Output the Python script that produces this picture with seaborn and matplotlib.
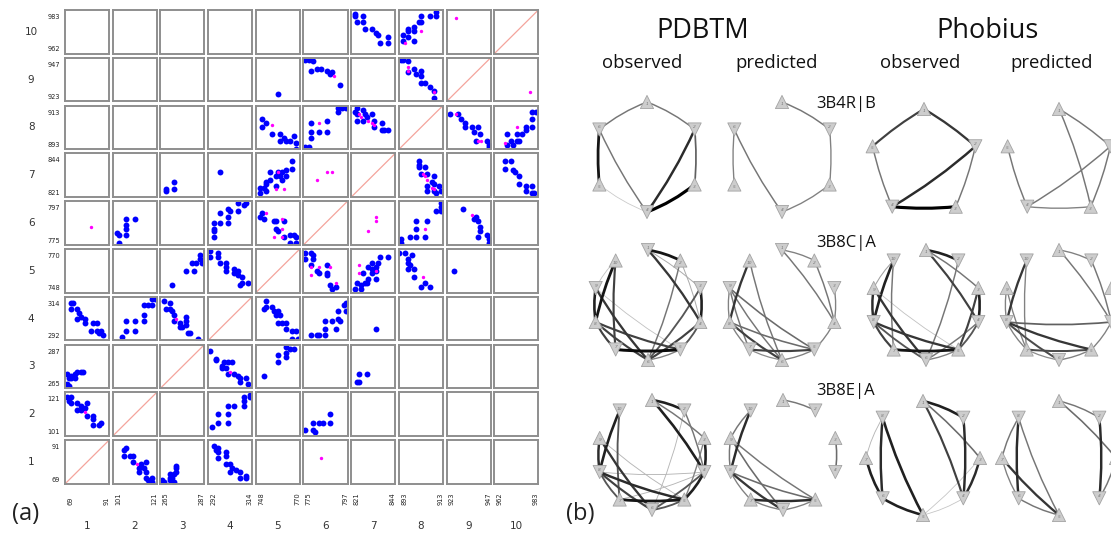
import matplotlib
matplotlib.use("Agg")
import matplotlib.pyplot as plt
from matplotlib.path import Path
from matplotlib.patches import PathPatch
import numpy as np
import pandas as pd
import seaborn as sns

sns.set_theme(style="white")
plt.rcParams["font.family"] = ["DejaVu Sans"]

# ---------------------------------------------------------------------------
# Transmembrane helix boundaries (residue numbers)
# ---------------------------------------------------------------------------
helix_names = ["1", "2", "3", "4", "5", "6", "7", "8", "9", "10"]
helix_start = [69, 101, 265, 292, 748, 775, 821, 893, 923, 962]
helix_end = [91, 121, 287, 314, 770, 797, 844, 913, 947, 983]

# Residue contacts between helix pairs: (residue on first helix, residue on second helix)
obs_1_2 = [(70, 119), (72, 119), (71, 117), (72, 116), (75, 116), (77, 115), (75, 113), (77, 113),
           (80, 116), (79, 114), (80, 110), (83, 110), (83, 109), (86, 106), (83, 106), (87, 107)]
obs_1_3 = [(70, 272), (71, 270), (70, 267), (71, 266), (72, 270), (74, 272), (74, 270), (77, 273),
           (78, 273), (69, 266), (75, 273), (72, 271)]
obs_1_4 = [(72, 311), (73, 311), (72, 308), (75, 308), (76, 306), (75, 303), (77, 304), (79, 303),
           (79, 301), (83, 301), (85, 301), (82, 297), (85, 297), (87, 297), (88, 295), (86, 296)]
obs_2_4 = [(105, 294), (107, 297), (107, 302), (111, 302), (111, 297), (115, 302), (115, 305),
           (115, 310), (117, 310), (119, 313), (120, 313), (119, 310)]
obs_2_6 = [(104, 776), (104, 780), (103, 781), (107, 780), (107, 783), (107, 785), (107, 788), (111, 788)]
obs_3_4 = [(267, 312), (270, 311), (268, 308), (270, 308), (271, 307), (272, 305), (275, 301),
           (275, 299), (276, 299), (278, 304), (278, 302), (278, 300), (279, 296), (280, 296),
           (284, 293), (272, 302)]
obs_3_5 = [(271, 752), (278, 759), (282, 759), (281, 763), (283, 763), (286, 763), (285, 765), (285, 767)]
obs_3_7 = [(268, 824), (268, 825), (272, 825), (272, 829)]
obs_4_5 = [(312, 753), (309, 753), (308, 752), (309, 756), (307, 757), (307, 759), (305, 760),
           (305, 758), (301, 761), (301, 759), (301, 763), (298, 763), (297, 766), (297, 768),
           (293, 766), (293, 769)]
obs_4_6 = [(295, 779), (295, 782), (295, 783), (295, 786), (298, 786), (302, 786), (302, 789),
           (303, 792), (302, 793), (298, 791), (307, 792), (310, 795), (311, 796), (307, 796)]
obs_4_7 = [(298, 834)]
obs_5_6 = [(751, 791), (752, 788), (757, 787), (758, 787), (758, 783), (759, 782), (762, 787),
           (762, 779), (765, 780), (767, 780), (768, 779), (768, 776), (765, 776), (750, 789)]
obs_5_7 = [(750, 823), (752, 826), (753, 828), (755, 830), (755, 834), (758, 832), (759, 834),
           (760, 832), (761, 834), (761, 830), (763, 835), (763, 832), (766, 836), (766, 840),
           (753, 824), (758, 827), (750, 826), (753, 829)]
obs_5_8 = [(751, 907), (751, 903), (756, 900), (760, 900), (760, 897), (762, 898), (763, 897),
           (767, 899), (768, 896), (768, 893), (765, 897), (753, 905)]
obs_5_9 = [(759, 927)]
obs_6_8 = [(778, 894), (779, 898), (779, 901), (779, 905), (783, 901), (787, 906), (787, 901),
           (792, 910), (792, 912), (794, 912), (796, 912), (776, 894)]
obs_6_9 = [(793, 932), (788, 938), (787, 940), (784, 941), (782, 941), (779, 940), (780, 945),
           (778, 946), (776, 946), (789, 939)]
obs_7_8 = [(824, 912), (827, 911), (823, 910), (824, 909), (824, 906), (827, 906), (828, 909),
           (829, 908), (832, 909), (833, 906), (833, 903), (837, 905), (838, 902), (840, 902), (837, 902)]
obs_7_10 = [(840, 967), (840, 970), (836, 967), (835, 971), (834, 972), (832, 974), (828, 974),
            (827, 977), (827, 980), (824, 977), (823, 980), (823, 981)]
obs_8_9 = [(894, 946), (897, 945), (897, 939), (900, 941), (903, 940), (901, 938), (903, 937),
           (903, 933), (905, 933), (907, 931), (909, 929), (909, 925), (895, 946)]
obs_8_10 = [(895, 968), (897, 970), (897, 973), (897, 974), (900, 973), (900, 968), (900, 975),
            (902, 977), (903, 977), (903, 980), (907, 980), (910, 980), (910, 982), (895, 971)]

pred_1_2 = [(79, 112)]
pred_1_6 = [(82, 784)]
pred_3_4 = [(273, 303)]
pred_5_6 = [(753, 791), (761, 788), (761, 783), (757, 779), (761, 779)]
pred_5_7 = [(758, 825), (762, 825), (759, 834)]
pred_5_8 = [(756, 904)]
pred_6_7 = [(782, 830), (787, 834), (789, 834)]
pred_6_8 = [(783, 905)]
pred_6_9 = [(790, 937)]
pred_7_8 = [(826, 908), (830, 906), (832, 905), (833, 904), (825, 909)]
pred_8_9 = [(897, 942), (897, 940), (909, 928)]
pred_8_10 = [(896, 967), (903, 973)]
pred_9_10 = [(928, 979)]

observed_sets = [obs_1_2, obs_1_3, obs_1_4, obs_2_4, obs_2_6, obs_3_4, obs_3_5, obs_3_7, obs_4_5,
                 obs_4_6, obs_4_7, obs_5_6, obs_5_7, obs_5_8, obs_5_9, obs_6_8, obs_6_9, obs_7_8,
                 obs_7_10, obs_8_9, obs_8_10]
predicted_sets = [pred_1_2, pred_1_6, pred_3_4, pred_5_6, pred_5_7, pred_5_8, pred_6_7, pred_6_8,
                  pred_6_9, pred_7_8, pred_8_9, pred_8_10, pred_9_10]

# ---------------------------------------------------------------------------
# Helix interaction graphs: (helix a, helix b, contact strength 0..1)
# ---------------------------------------------------------------------------
pdbtm_obs_3b4r = [(1, 2, 0.45), (1, 6, 0.45), (6, 5, 0.9), (6, 4, 0.45), (2, 4, 0.8), (2, 3, 0.55),
                  (3, 4, 1.0), (5, 4, 0.06)]
pdbtm_pred_3b4r = [(1, 2, 0.45), (6, 5, 0.4), (6, 4, 0.45), (2, 3, 0.4), (3, 4, 0.4)]
phobius_obs_3b4r = [(1, 5, 0.7), (1, 2, 0.75), (5, 4, 0.45), (2, 4, 0.8), (2, 3, 0.45), (4, 3, 1.0)]
phobius_pred_3b4r = [(1, 2, 0.45), (1, 3, 0.45), (5, 4, 0.45), (2, 4, 0.45), (2, 3, 0.45), (4, 3, 0.4)]

pdbtm_obs_3b8c = [(1, 2, 0.9), (1, 4, 0.75), (2, 6, 0.45), (1, 3, 0.2), (2, 4, 0.2), (3, 4, 0.85),
                  (3, 6, 0.6), (4, 6, 0.7), (4, 5, 0.6), (10, 8, 0.9), (10, 7, 0.7), (9, 8, 0.85),
                  (9, 6, 0.75), (9, 5, 0.1), (8, 7, 0.7), (8, 6, 0.7), (8, 5, 0.7), (7, 5, 0.95),
                  (6, 5, 0.4), (10, 9, 0.1)]
pdbtm_pred_3b8c = [(1, 2, 0.4), (1, 4, 0.45), (2, 4, 0.45), (3, 4, 0.4), (4, 5, 0.4), (10, 8, 0.75),
                   (10, 6, 0.45), (9, 8, 0.4), (9, 7, 0.45), (9, 6, 0.45), (9, 5, 0.5), (8, 7, 0.4),
                   (8, 6, 0.7), (8, 5, 0.5), (7, 5, 0.7), (6, 5, 0.4), (7, 6, 0.35)]
phobius_obs_3b8c = [(1, 2, 0.85), (1, 3, 0.45), (1, 4, 0.7), (2, 6, 0.45), (3, 4, 0.85), (3, 5, 0.7),
                    (4, 5, 0.6), (4, 6, 0.45), (10, 9, 0.25), (10, 8, 0.85), (10, 7, 0.45),
                    (9, 8, 0.8), (9, 6, 0.75), (9, 5, 0.1), (8, 7, 0.7), (8, 5, 0.75), (8, 6, 0.6),
                    (7, 5, 0.9), (6, 5, 0.4)]
phobius_pred_3b8c = [(1, 2, 0.4), (1, 4, 0.45), (2, 4, 0.45), (10, 8, 0.75), (10, 7, 0.4), (9, 8, 0.4),
                     (9, 7, 0.4), (8, 4, 0.55), (8, 5, 0.75), (8, 6, 0.65), (8, 7, 0.4), (7, 5, 0.65),
                     (7, 6, 0.35), (6, 5, 0.4), (4, 5, 0.4), (3, 4, 0.4)]

pdbtm_obs_3b8e = [(1, 2, 0.85), (1, 4, 0.85), (1, 3, 0.45), (2, 6, 0.15), (2, 4, 0.45), (3, 4, 0.85),
                  (3, 5, 0.4), (4, 5, 0.85), (4, 6, 0.6), (4, 7, 0.15), (10, 8, 0.85), (10, 7, 0.6),
                  (9, 8, 0.8), (9, 6, 0.75), (9, 5, 0.15), (8, 5, 0.8), (8, 6, 0.7), (8, 4, 0.15),
                  (8, 7, 0.6), (7, 5, 0.9), (6, 5, 0.6)]
pdbtm_pred_3b8e = [(1, 2, 0.45), (3, 4, 0.5), (10, 9, 0.45), (10, 8, 0.8), (9, 8, 0.45), (9, 6, 0.5),
                   (9, 5, 0.45), (8, 7, 0.4), (8, 6, 0.75), (8, 5, 0.5), (7, 5, 0.8), (7, 6, 0.4),
                   (6, 5, 0.4)]
phobius_obs_3b8e = [(1, 2, 0.85), (1, 3, 0.5), (1, 4, 0.7), (2, 4, 0.8), (3, 4, 0.8), (3, 5, 0.08),
                    (4, 5, 0.08), (8, 7, 0.15), (8, 6, 0.8), (8, 5, 0.85), (7, 6, 0.85), (6, 5, 0.85)]
phobius_pred_3b8e = [(1, 2, 0.45), (1, 3, 0.5), (2, 4, 0.8), (3, 4, 0.45), (8, 7, 0.45), (8, 6, 0.8),
                     (8, 5, 0.45), (7, 6, 0.4), (7, 5, 0.75), (6, 5, 0.45)]

structure_labels = ["3B4R|B", "3B8C|A", "3B8E|A"]
source_titles = ["PDBTM", "Phobius"]
column_titles = ["observed", "predicted", "observed", "predicted"]

# ---------------------------------------------------------------------------
W, H = 1111, 534
fig = plt.figure(figsize=(W / 100, H / 100), dpi=100)
fig.patch.set_facecolor("white")


def helix_index(res):
    for k, (lo, hi) in enumerate(zip(helix_start, helix_end)):
        if lo <= res <= hi:
            return k
    raise ValueError(res)


records = []
for kind, sets in (("observed", observed_sets), ("predicted", predicted_sets)):
    for pairs in sets:
        for a, b in pairs:
            ha, hb = helix_index(a), helix_index(b)
            records.append(dict(yh=ha, xh=hb, x=b, y=a, kind=kind))
            records.append(dict(yh=hb, xh=ha, x=a, y=b, kind=kind))
contacts = pd.DataFrame(records)

# ---- (a) helix-helix contact maps ----------------------------------------
cell_h = 43.7
gs = fig.add_gridspec(10, 10, left=65 / W, right=538.3 / W, top=1 - 10 / H, bottom=1 - 483.9 / H,
                      wspace=0.084, hspace=0.094)
tick_kw = dict(fontsize=4.8, color="#222222")
for r in range(10):
    yh = 9 - r
    for c in range(10):
        xh = c
        ax = fig.add_subplot(gs[r, c])
        cell = contacts[(contacts.xh == xh) & (contacts.yh == yh)]
        obs = cell[cell.kind == "observed"]
        pred = cell[cell.kind == "predicted"]
        if len(obs):
            sns.scatterplot(data=obs, x="x", y="y", ax=ax, color="#0000ff", s=18,
                            linewidth=0, legend=False, zorder=2)
        if len(pred):
            sns.scatterplot(data=pred, x="x", y="y", ax=ax, color="#ff00ff", s=6,
                            linewidth=0, legend=False, zorder=3)
        if xh == yh:
            ax.plot([helix_start[xh], helix_end[xh]], [helix_start[yh], helix_end[yh]],
                    color="#f4a49c", lw=0.9, zorder=1)
        ax.set_xlim(helix_start[xh], helix_end[xh])
        ax.set_ylim(helix_start[yh], helix_end[yh])
        ax.set_xticks([])
        ax.set_yticks([])
        ax.set_xlabel("")
        ax.set_ylabel("")
        for sp in ax.spines.values():
            sp.set_visible(True)
            sp.set_color("#8e8e8e")
            sp.set_linewidth(1.4)
        if c == 0:
            ax.text(-0.11, 0.84, str(helix_end[yh]), transform=ax.transAxes,
                    ha="right", va="center", **tick_kw)
            ax.text(-0.11, 0.10, str(helix_start[yh]), transform=ax.transAxes,
                    ha="right", va="center", **tick_kw)
            ax.text(-0.77, 0.5, helix_names[yh], transform=ax.transAxes,
                    ha="center", va="center", fontsize=7.5, color="#333333")
        if r == 9:
            ax.text(0.12, -21 / cell_h, str(helix_start[xh]), transform=ax.transAxes,
                    rotation=90, ha="center", va="bottom", **tick_kw)
            ax.text(0.945, -21 / cell_h, str(helix_end[xh]), transform=ax.transAxes,
                    rotation=90, ha="center", va="bottom", **tick_kw)
            ax.text(0.5, -42 / cell_h, helix_names[xh], transform=ax.transAxes,
                    ha="center", va="center", fontsize=7.5, color="#333333")

fig.text(26 / W, 1 - 514 / H, "(a)", ha="center", va="center", fontsize=17,
         family=["Open Sans", "DejaVu Sans"], color="#222222")
fig.text(580 / W, 1 - 514 / H, "(b)", ha="center", va="center", fontsize=17,
         family=["Open Sans", "DejaVu Sans"], color="#222222")

# ---- (b) helix interaction graphs -----------------------------------------
gax = fig.add_axes([575 / W, 0, (W - 575) / W, 1])
gax.set_xlim(575, W)
gax.set_ylim(H, 0)
gax.axis("off")

graphs = [
    # edges, helix count, first helix points up, centre x, centre y, radius
    (pdbtm_obs_3b4r, 6, True, 647, 157, 55),
    (pdbtm_pred_3b4r, 6, True, 782, 157, 55),
    (phobius_obs_3b4r, 5, True, 924, 163, 54),
    (phobius_pred_3b4r, 5, True, 1059, 163, 54),
    (pdbtm_obs_3b8c, 10, False, 648, 305, 55),
    (pdbtm_pred_3b8c, 10, False, 782, 305, 55),
    (phobius_obs_3b8c, 10, True, 926, 305, 55),
    (phobius_pred_3b8c, 10, True, 1059, 305, 55),
    (pdbtm_obs_3b8e, 10, True, 652, 455, 55),
    (pdbtm_pred_3b8e, 10, True, 783, 455, 55),
    (phobius_obs_3b8e, 8, True, 923, 458, 57),
    (phobius_pred_3b8e, 8, True, 1059, 458, 57),
]


def draw_edge(ax, p, q, centre, radius, w):
    mid = (p + q) / 2
    d = q - p
    length = np.hypot(*d)
    out = mid - centre
    dist = np.hypot(*out)
    if dist > 0.3 * radius:
        nrm = out / dist
        bend = 0.08 if length < 1.0 * radius else 0.05
    else:
        nrm = np.array([-d[1], d[0]]) / length
        bend = 0.05
    ctrl = mid + nrm * bend * length
    path = Path([p, ctrl, q], [Path.MOVETO, Path.CURVE3, Path.CURVE3])
    grey = 0.84 * (1 - w)
    lw = 0.55 + 1.7 * w ** 1.5
    ax.add_patch(PathPatch(path, fc="none", ec=(grey, grey, grey), lw=lw,
                           capstyle="round", zorder=1 + w))


for edges, n, first_up, cx, cy, rad in graphs:
    ang = np.arange(n) * 2 * np.pi / n
    xs = cx + rad * np.sin(ang)
    ys = cy - rad * np.cos(ang)
    centre = np.array([cx, cy])
    for a, b, w in sorted(edges, key=lambda e: e[2]):
        draw_edge(gax, np.array([xs[a - 1], ys[a - 1]]), np.array([xs[b - 1], ys[b - 1]]),
                  centre, rad, w)
    orient = [("up" if ((k % 2 == 0) == first_up) else "down") for k in range(n)]
    nodes = pd.DataFrame(dict(x=xs, y=ys, orient=orient))
    sns.scatterplot(data=nodes, x="x", y="y", style="orient", markers={"up": "^", "down": "v"},
                    s=90, color="#cdcdcd", edgecolor="#a3a3a3", linewidth=0.6,
                    legend=False, ax=gax, zorder=5)
    for k in range(n):
        if xs[k] > W - 6:
            continue
        dy = 2.0 if orient[k] == "up" else -2.0
        gax.text(xs[k], ys[k] + dy, str(k + 1), fontsize=3.2, color="#7a7a7a", style="italic",
                 ha="center", va="center", zorder=6)

gax.set_xlabel("")
gax.set_ylabel("")
gax.set_xlim(575, W)
gax.set_ylim(H, 0)

title_font = ["Open Sans", "DejaVu Sans"]
for x, t in zip([703, 988], source_titles):
    gax.text(x, 38, t, fontsize=19.5, ha="center", va="baseline", family=title_font, color="#111111")
for x, t in zip([642, 777, 920, 1052], column_titles):
    gax.text(x, 68, t, fontsize=13.3, ha="center", va="baseline", family=title_font, color="#111111")
for y, t in zip([108, 247, 395], structure_labels):
    gax.text(846, y, t, fontsize=12, ha="center", va="baseline", family=title_font, color="#111111")

fig.savefig("out.png", dpi=100, facecolor="white")
